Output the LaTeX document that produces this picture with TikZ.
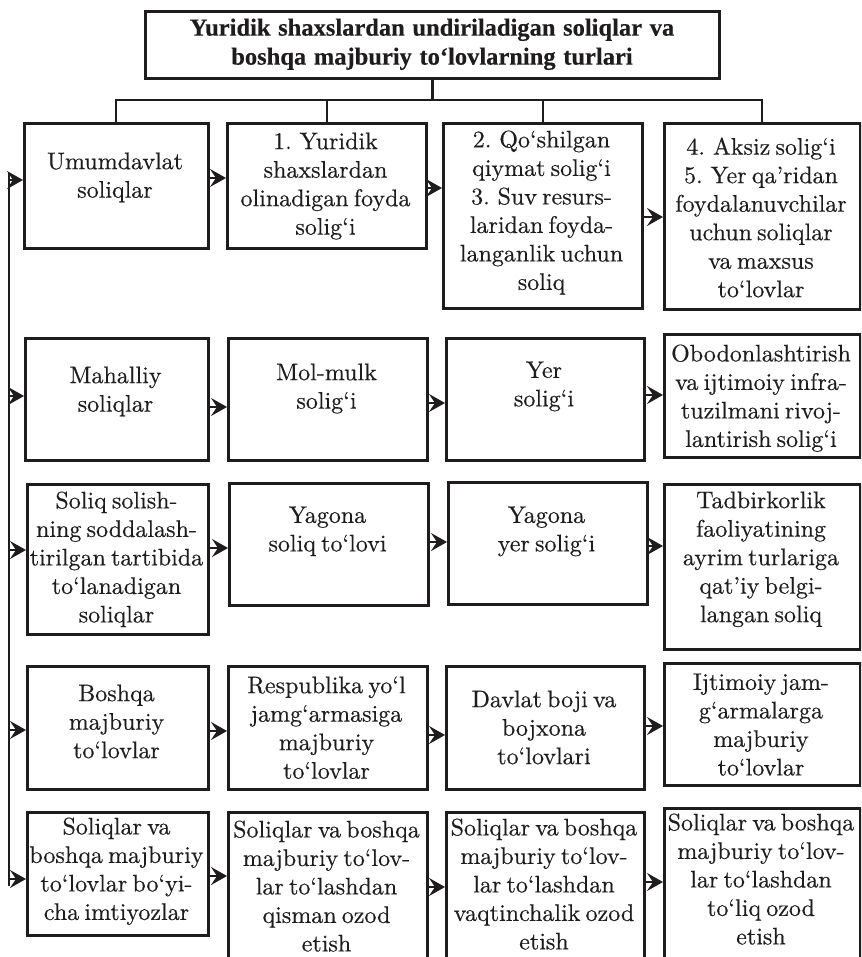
\documentclass[tikz,border=0pt]{standalone}
\usepackage{fontspec}
\newfontfamily\headfont{Liberation Serif}[WordSpace={1.25,1,1}, FakeBold=0.3]
\newfontfamily\bodyfont{lmroman10-regular}[Extension=.otf, WordSpace={0.65,1,1}, FakeBold=0.35]
\usetikzlibrary{arrows.meta}
\definecolor{ink}{RGB}{30,28,28}
\tikzset{
  box/.style={draw=ink, line width=2.6pt, rectangle, inner sep=0pt},
  txt/.style={inner sep=0pt, align=center, text=ink, font=\bodyfont\fontsize{24pt}{28.5pt}\selectfont},
  conn/.style={draw=ink, line width=2.2pt},
  arr/.style={draw=ink, line width=1.6pt, -{Stealth[length=16pt,width=18pt,inset=6pt]}},
}
% \cell{name}{x1}{y1}{x2}{y2}{first baseline}{text}
\newcommand\cell[7]{%
  \node[box, minimum width={#4-#2}, minimum height={#5-#3}, anchor=north west] (#1) at (#2,#3) {};
  \node[txt, anchor=north] (#1t) at ({(#2+#4)/2},{#6-16.7}) {#7};}
% arrow from one box to the next at height y
\newcommand\link[3]{\draw[arr] (#1.east |- 0,#3) -- (#2.west |- 0,#3);}
% arrow from the left bus into a box at height y
\newcommand\feed[2]{\draw[arr] (bus |- 0,#2) -- (#1.west |- 0,#2);}
\begin{document}
\begin{tikzpicture}[x=1pt,y=-1pt]
\useasboundingbox (0,0) rectangle (861,957);
\fill[white] (0,0) rectangle (861,957);
\clip (0,0) rectangle (861,957);

% heading
\node[box, line width=2.8pt, minimum width=574pt, minimum height=67pt, anchor=north west] (title) at (144,10) {};
\node[inner sep=0pt, align=center, text=ink, font=\headfont\bfseries\fontsize{24.5pt}{29pt}\selectfont, anchor=north] (titletext) at (432,18.4)
  {Yuridik shaxslardan undiriladigan soliqlar va\\boshqa majburiy to‘lovlarning turlari};

% row 1
\cell{b11}{23}{122}{207}{247}{169}{Umumdavlat\\soliqlar}
\cell{b12}{226}{122}{425}{247}{149}{1. Yuridik\\shaxslardan\\olinadigan foyda\\solig‘i}
\cell{b13}{442}{122}{641}{307}{147}{2. Qo‘shilgan\\qiymat solig‘i\\3. Suv resurs-\\laridan foyda-\\langanlik uchun\\soliq}
\cell{b14}{663}{122}{859}{308}{154}{4. Aksiz solig‘i\\5. Yer qa’ridan\\foydalanuvchilar\\uchun soliqlar\\va maxsus\\to‘lovlar}

% row 2
\cell{b21}{24}{337}{207}{459}{383}{Mahalliy\\soliqlar}
\cell{b22}{227}{337}{426}{459}{380}{Mol-mulk\\solig‘i}
\cell{b23}{445}{337}{643}{459}{378}{Yer\\solig‘i}
\cell{b24}{663}{333}{859}{456}{361}{Obodonlashtirish\\va ijtimoiy infra-\\tuzilmani rivoj-\\lantirish solig‘i}

% row 3
\cell{b31}{26}{483}{207}{633}{508}{Soliq solish-\\ning soddalash-\\tirilgan tartibida\\to‘lanadigan\\soliqlar}
\cell{b32}{228}{482}{427}{604}{523}{Yagona\\soliq to‘lovi}
\cell{b33}{447}{481}{646}{603}{523}{Yagona\\yer solig‘i}
\cell{b34}{663}{483}{859}{648}{508}{Tadbirkorlik\\faoliyatining\\ayrim turlariga\\qat’iy belgi-\\langan soliq}

% row 4
\cell{b41}{26}{665}{207}{788}{701}{Boshqa\\majburiy\\to‘lovlar}
\cell{b42}{227}{665}{426}{788}{693}{Respublika yo‘l\\jamg‘armasiga\\majburiy\\to‘lovlar}
\cell{b43}{445}{665}{643}{788}{707}{Davlat boji va\\bojxona\\to‘lovlari}
\cell{b44}{663}{662}{859}{784}{690}{Ijtimoiy jam-\\g‘armalarga\\majburiy\\to‘lovlar}

% row 5
\cell{b51}{26}{811}{207}{934}{834}{Soliqlar va\\boshqa majburiy\\to‘lovlar bo‘yi-\\cha imtiyozlar}
\cell{b52}{227}{811}{426}{975}{837}{Soliqlar va boshqa\\majburiy to‘lov-\\lar to‘lashdan\\qisman ozod\\etish}
\cell{b53}{445}{811}{643}{975}{835}{Soliqlar va boshqa\\majburiy to‘lov-\\lar to‘lashdan\\vaqtinchalik ozod\\etish}
\cell{b54}{663}{807}{859}{975}{830}{Soliqlar va boshqa\\majburiy to‘lov-\\lar to‘lashdan\\to‘liq ozod\\etish}

% tree from the heading to the first row
\coordinate (hub) at (title.south |- 0,100);
\draw[conn] (title.south) -- (hub);
\draw[conn] (b11.north) |- (b14.north |- hub) -- (b14.north);
\draw[conn] (b12.north) -- (b12.north |- hub);
\draw[conn] (b13.north) -- (b13.north |- hub);

% left bus feeding every row
\coordinate (bus) at (9,173);
\coordinate (busend) at (9,886);
\draw[conn, line width=2pt] (bus) -- (busend);
\feed{b11}{180}
\feed{b21}{396}
\feed{b31}{550}
\feed{b41}{730}
\feed{b51}{879}

% arrows along each row
\link{b11}{b12}{178} \link{b12}{b13}{188} \link{b13}{b14}{217}
\link{b21}{b22}{407} \link{b22}{b23}{403} \link{b23}{b24}{395}
\link{b31}{b32}{548} \link{b32}{b33}{542} \link{b33}{b34}{546}
\link{b41}{b42}{731} \link{b42}{b43}{735} \link{b43}{b44}{726}
\link{b51}{b52}{876} \link{b52}{b53}{887} \link{b53}{b54}{882}
\end{tikzpicture}
\end{document}
